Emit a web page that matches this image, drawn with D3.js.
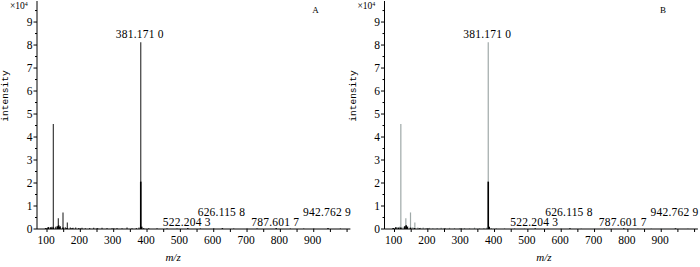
<!DOCTYPE html>
<html>
<head>
<meta charset="utf-8">
<script src="https://cdn.jsdelivr.net/npm/d3@7"></script>
<style>
  html, body { margin: 0; padding: 0; background: #fff; }
  svg { display: block; }
  text { font-family: "Liberation Serif", "Times New Roman", serif; fill: #000; }
</style>
</head>
<body>
<div id="chart"></div>
<script>
// m/z spectrum data, intensity in units of 10^4
var greyMz  = [100, 104, 110, 115, 119, 126, 134, 140, 148, 155, 161, 170, 178, 186, 195, 205, 215, 228, 240, 252,
               265, 280, 295, 310, 325, 340, 355, 368, 376, 381.171, 390, 405, 430, 460, 490, 522.2043, 560, 600,
               626.1158, 660, 700, 730, 787.6017, 830, 870, 900, 942.7629, 980];
var greyInt = [0.04, 0.06, 0.08, 0.1, 4.57, 0.1, 0.47, 0.12, 0.72, 0.08, 0.28, 0.06, 0.05, 0.07, 0.04, 0.05, 0.03, 0.04, 0.05, 0.03,
               0.05, 0.04, 0.03, 0.04, 0.03, 0.06, 0.03, 0.04, 0.06, 8.12, 0.04, 0.03, 0.03, 0.03, 0.02, 0.04, 0.02, 0.03,
               0.04, 0.02, 0.02, 0.03, 0.04, 0.02, 0.02, 0.02, 0.04, 0.02];

var blackMz  = [96, 104, 112, 119, 131, 135, 138, 148, 160, 175, 200, 250, 300, 381.171, 384, 522.2043, 626.1158, 787.6017, 942.7629];
var blackInt = [0.04, 0.08, 0.06, 0.07, 0.12, 0.16, 0.1, 0.06, 0.04, 0.03, 0.02, 0.02, 0.02, 2.06, 0.1, 0.02, 0.02, 0.02, 0.02];

var labelMz   = [381.171, 522.2043, 626.1158, 787.6017, 942.7629];
var labelText = ["381.171 0", "522.204 3", "626.115 8", "787.601 7", "942.762 9"];

var xTicks = [100, 200, 300, 400, 500, 600, 700, 800, 900];
var xMinorTicks = d3.range(100, 1001, 50);
var yTicks = [0, 1, 2, 3, 4, 5, 6, 7, 8, 9];
var yMinorTicks = d3.range(0.5, 9.6, 1);

var panels = [
    { name: "A", left: 37, grey: "#3a3a3a", titleMz: 478 },
    { name: "B", left: 384.5, grey: "#9fa9a8", titleMz: 548 }
];

var width = 700, height = 267;
var plotW = 313.4, plotTop = 2.5, plotBottom = 229;

var svg = d3.select("#chart").append("svg")
    .attr("width", width)
    .attr("height", height);

panels.forEach(function (p) {
    var g = svg.append("g").attr("transform", "translate(" + p.left + ",0)");

    var x = d3.scaleLinear().domain([70, 1010]).range([0, plotW]);
    var y = d3.scaleLinear().domain([0, 9.85]).range([plotBottom, plotTop]);

    // grey (tall) trace
    g.append("g").selectAll("line")
        .data(greyMz)
        .join("line")
        .attr("x1", function (d) { return x(d); })
        .attr("x2", function (d) { return x(d); })
        .attr("y1", y(0))
        .attr("y2", function (d, i) { return y(greyInt[i]); })
        .attr("stroke", p.grey)
        .attr("stroke-width", 1.2);

    // black trace on top
    g.append("g").selectAll("line")
        .data(blackMz)
        .join("line")
        .attr("x1", function (d) { return x(d); })
        .attr("x2", function (d) { return x(d); })
        .attr("y1", y(0))
        .attr("y2", function (d, i) { return y(blackInt[i]); })
        .attr("stroke", "#000")
        .attr("stroke-width", 1.6);

    // x axis
    var xAxis = g.append("g").attr("transform", "translate(0," + plotBottom + ")");
    xAxis.append("line")
        .attr("x1", 0).attr("x2", plotW)
        .attr("stroke", "#000").attr("stroke-width", 1);
    xAxis.selectAll(".minorX")
        .data(xMinorTicks)
        .join("line")
        .attr("class", "minorX")
        .attr("x1", function (d) { return x(d); })
        .attr("x2", function (d) { return x(d); })
        .attr("y1", 0).attr("y2", 3)
        .attr("stroke", "#000");
    xAxis.selectAll("text")
        .data(xTicks)
        .join("text")
        .attr("x", function (d) { return x(d) - 1; })
        .attr("y", 15)
        .attr("text-anchor", "middle")
        .attr("font-size", "11.5px")
        .text(function (d) { return d; });

    // y axis
    var yAxis = g.append("g");
    yAxis.append("line")
        .attr("y1", plotBottom).attr("y2", 1)
        .attr("stroke", "#000").attr("stroke-width", 1);
    yAxis.selectAll(".majorY")
        .data(yTicks)
        .join("line")
        .attr("class", "majorY")
        .attr("x1", -3.5).attr("x2", 0)
        .attr("y1", function (d) { return y(d); })
        .attr("y2", function (d) { return y(d); })
        .attr("stroke", "#000");
    yAxis.selectAll(".minorY")
        .data(yMinorTicks)
        .join("line")
        .attr("class", "minorY")
        .attr("x1", -2).attr("x2", 0)
        .attr("y1", function (d) { return y(d); })
        .attr("y2", function (d) { return y(d); })
        .attr("stroke", "#000");
    yAxis.selectAll("text")
        .data(yTicks)
        .join("text")
        .attr("x", -4.5)
        .attr("y", function (d) { return y(d) + 4; })
        .attr("text-anchor", "end")
        .attr("font-size", "11.5px")
        .text(function (d) { return d; });

    // x10^4 multiplier
    var mult = g.append("text")
        .attr("x", -27).attr("y", 9)
        .attr("font-size", "9.5px");
    mult.append("tspan").text("×10");
    mult.append("tspan").attr("font-size", "6px").attr("dy", -3.5).text("4");

    // peak labels
    g.selectAll(".plabel")
        .data(labelMz)
        .join("text")
        .attr("class", "plabel")
        .attr("x", function (d) { return x(d) - 1; })
        .attr("y", function (d, i) {
            if (i === 0) return y(greyInt[greyMz.indexOf(d)]) - 4;
            return y(0) - 3 - (i % 2 === 0 ? 10 : 0);
        })
        .attr("text-anchor", "middle")
        .attr("font-size", "11.5px")
        .attr("letter-spacing", "0.2px")
        .text(function (d, i) { return labelText[i]; });

    // axis titles
    g.append("text")
        .attr("transform", "translate(-29," + 96 + ") rotate(-90)")
        .attr("text-anchor", "middle")
        .style("font-family", "'Liberation Mono', monospace")
        .attr("font-size", "9.5px")
        .text("intensity");

    g.append("text")
        .attr("x", x(p.titleMz))
        .attr("y", 261)
        .attr("text-anchor", "middle")
        .attr("font-style", "italic")
        .attr("font-size", "11px")
        .text("m/z");

    // panel letter
    g.append("text")
        .attr("x", x(905))
        .attr("y", 13)
        .attr("text-anchor", "middle")
        .attr("font-size", "9px")
        .text(p.name);
});
</script>
</body>
</html>
